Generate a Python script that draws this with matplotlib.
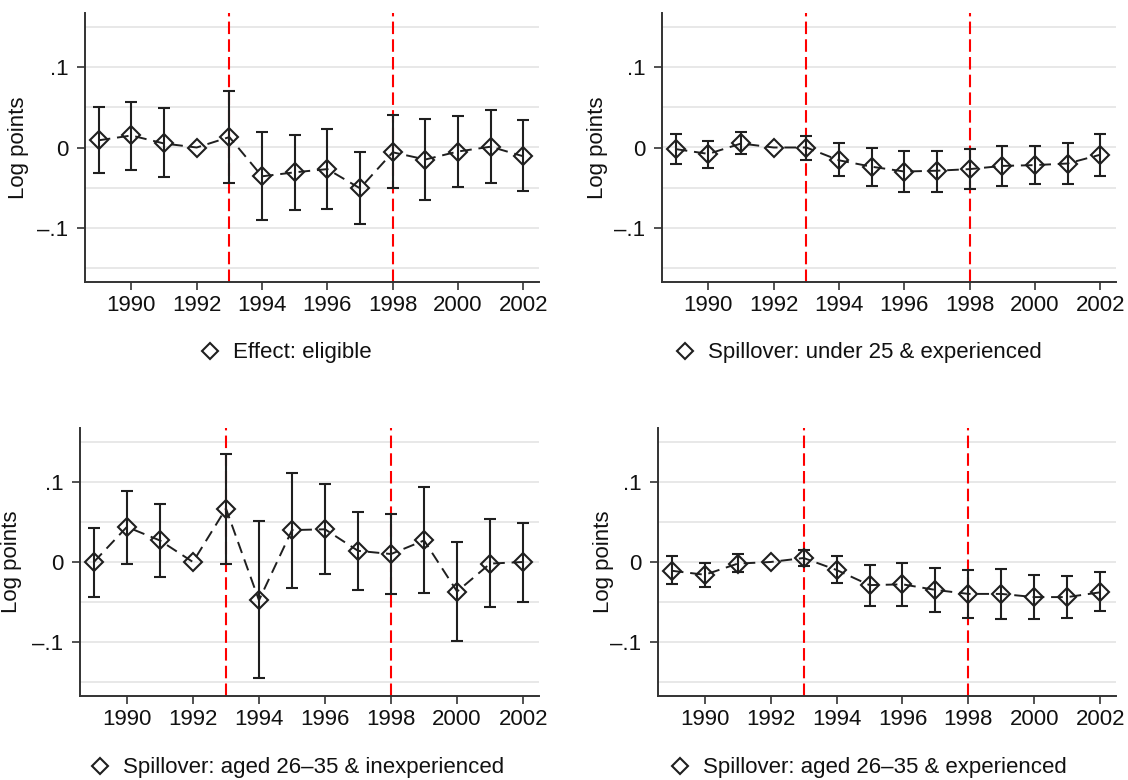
import numpy as np
import matplotlib
matplotlib.use('Agg')
import matplotlib.pyplot as plt
from matplotlib.lines import Line2D

plt.rcParams['font.family'] = ['Liberation Sans', 'DejaVu Sans']

years = list(range(1989, 2003))

# point estimates and 95% CI bounds
eligible_est = [0.009, 0.015, 0.005, 0.0, 0.013, -0.036, -0.031, -0.027, -0.051, -0.006, -0.015, -0.005, 0.001, -0.011]
eligible_lo = [-0.032, -0.028, -0.037, 0.0, -0.044, -0.090, -0.078, -0.077, -0.096, -0.051, -0.066, -0.049, -0.044, -0.054]
eligible_hi = [0.051, 0.057, 0.049, 0.0, 0.070, 0.019, 0.016, 0.023, -0.005, 0.040, 0.036, 0.039, 0.047, 0.034]

under25_est = [-0.002, -0.008, 0.005, 0.0, 0.000, -0.016, -0.024, -0.030, -0.029, -0.027, -0.023, -0.022, -0.020, -0.009]
under25_lo = [-0.020, -0.026, -0.008, 0.0, -0.015, -0.036, -0.048, -0.056, -0.055, -0.052, -0.048, -0.046, -0.046, -0.035]
under25_hi = [0.017, 0.008, 0.019, 0.0, 0.014, 0.005, 0.000, -0.004, -0.004, -0.002, 0.002, 0.002, 0.005, 0.017]

inexp_est = [0.0, 0.044, 0.027, 0.0, 0.067, -0.048, 0.040, 0.041, 0.014, 0.010, 0.027, -0.037, -0.002, 0.0]
inexp_lo = [-0.044, -0.002, -0.019, 0.0, -0.002, -0.146, -0.032, -0.015, -0.035, -0.040, -0.039, -0.099, -0.057, -0.050]
inexp_hi = [0.043, 0.089, 0.073, 0.0, 0.136, 0.052, 0.112, 0.098, 0.063, 0.060, 0.094, 0.025, 0.054, 0.049]

exp26_est = [-0.011, -0.016, -0.002, 0.0, 0.005, -0.010, -0.029, -0.028, -0.035, -0.040, -0.040, -0.044, -0.044, -0.038]
exp26_lo = [-0.028, -0.031, -0.013, 0.0, -0.005, -0.026, -0.055, -0.055, -0.063, -0.070, -0.072, -0.071, -0.070, -0.062]
exp26_hi = [0.007, -0.001, 0.010, 0.0, 0.015, 0.007, -0.004, -0.001, -0.008, -0.010, -0.009, -0.016, -0.018, -0.012]

labels = ['Effect: eligible',
          'Spillover: under 25 & experienced',
          'Spillover: aged 26\u201335 & inexperienced',
          'Spillover: aged 26\u201335 & experienced']
reform_years = [1993, 1998]

W, H = 1128, 780
fig = plt.figure(figsize=(W / 100, H / 100), dpi=100)

# pixel boxes: left, right, top, bottom ; ylabel x ; legend left x, centre y
boxes = [(85, 539, 13, 282, 19, 201, 353),
         (662, 1116, 13, 282, 597, 676, 353),
         (80, 539, 428, 696, 12, 91, 768),
         (658, 1116, 428, 696, 603, 671, 768)]
series = [(eligible_est, eligible_lo, eligible_hi),
          (under25_est, under25_lo, under25_hi),
          (inexp_est, inexp_lo, inexp_hi),
          (exp26_est, exp26_lo, exp26_hi)]

dark = '#1f1f1f'
fs = 16
for (l, r, t, b, yl, lx, ly), (est, lo, hi), lab in zip(boxes, series, labels):
    ax = fig.add_axes([l / W, 1 - b / H, (r - l) / W, (b - t) / H])
    yrs = np.array(years)
    est = np.array(est); lo = np.array(lo); hi = np.array(hi)

    for g in np.arange(-0.15, 0.151, 0.05):
        ax.axhline(g, color='#e8e8e8', lw=1.4, zorder=0)
    for ry in reform_years:
        ax.axvline(ry, color='#ff0000', lw=1.5, dashes=(6, 2.5), zorder=1)

    m = hi != lo
    ax.errorbar(yrs[m], est[m], yerr=[est[m] - lo[m], hi[m] - est[m]], fmt='none',
                ecolor=dark, elinewidth=1.5, capsize=4.5, capthick=1.5, zorder=2)
    ax.plot(yrs, est, color=dark, lw=1.4, linestyle=(0, (6, 3.5)), zorder=2)
    ax.plot(yrs, est, linestyle='none', marker='D', ms=9, mfc='none', mec=dark, mew=1.5, zorder=3)

    ax.set_xlim(1988.58, 2002.48)
    ax.set_ylim(-0.168, 0.168)
    ax.set_xticks(range(1990, 2003, 2))
    ax.set_yticks([-0.1, 0, 0.1])
    ax.set_yticklabels(['\u2013.1', '0', '.1'])
    ax.tick_params(length=5.8, width=1.2, color='#333333', labelsize=fs, labelcolor='#111111')
    ax.tick_params(axis='y', pad=6)
    ax.tick_params(axis='x', pad=3.5)
    for s in ['top', 'right']:
        ax.spines[s].set_visible(False)
    for s in ['left', 'bottom']:
        ax.spines[s].set_color('#333333')
        ax.spines[s].set_linewidth(1.4)
    ax.set_ylabel('Log points', fontsize=fs, color='#111111', va='center')
    ax.yaxis.set_label_coords((yl - l) / (r - l), 0.5)

    h = Line2D([], [], linestyle='none', marker='D', ms=8, mfc='none', mec=dark, mew=1.5)
    fig.legend([h], [lab], loc='center left', bbox_to_anchor=(lx / W, 1 - ly / H),
               frameon=False, fontsize=fs, handletextpad=0.63, handlelength=0.8,
               borderpad=0, borderaxespad=0, labelcolor='#111111')

fig.savefig('out.png', dpi=100)
